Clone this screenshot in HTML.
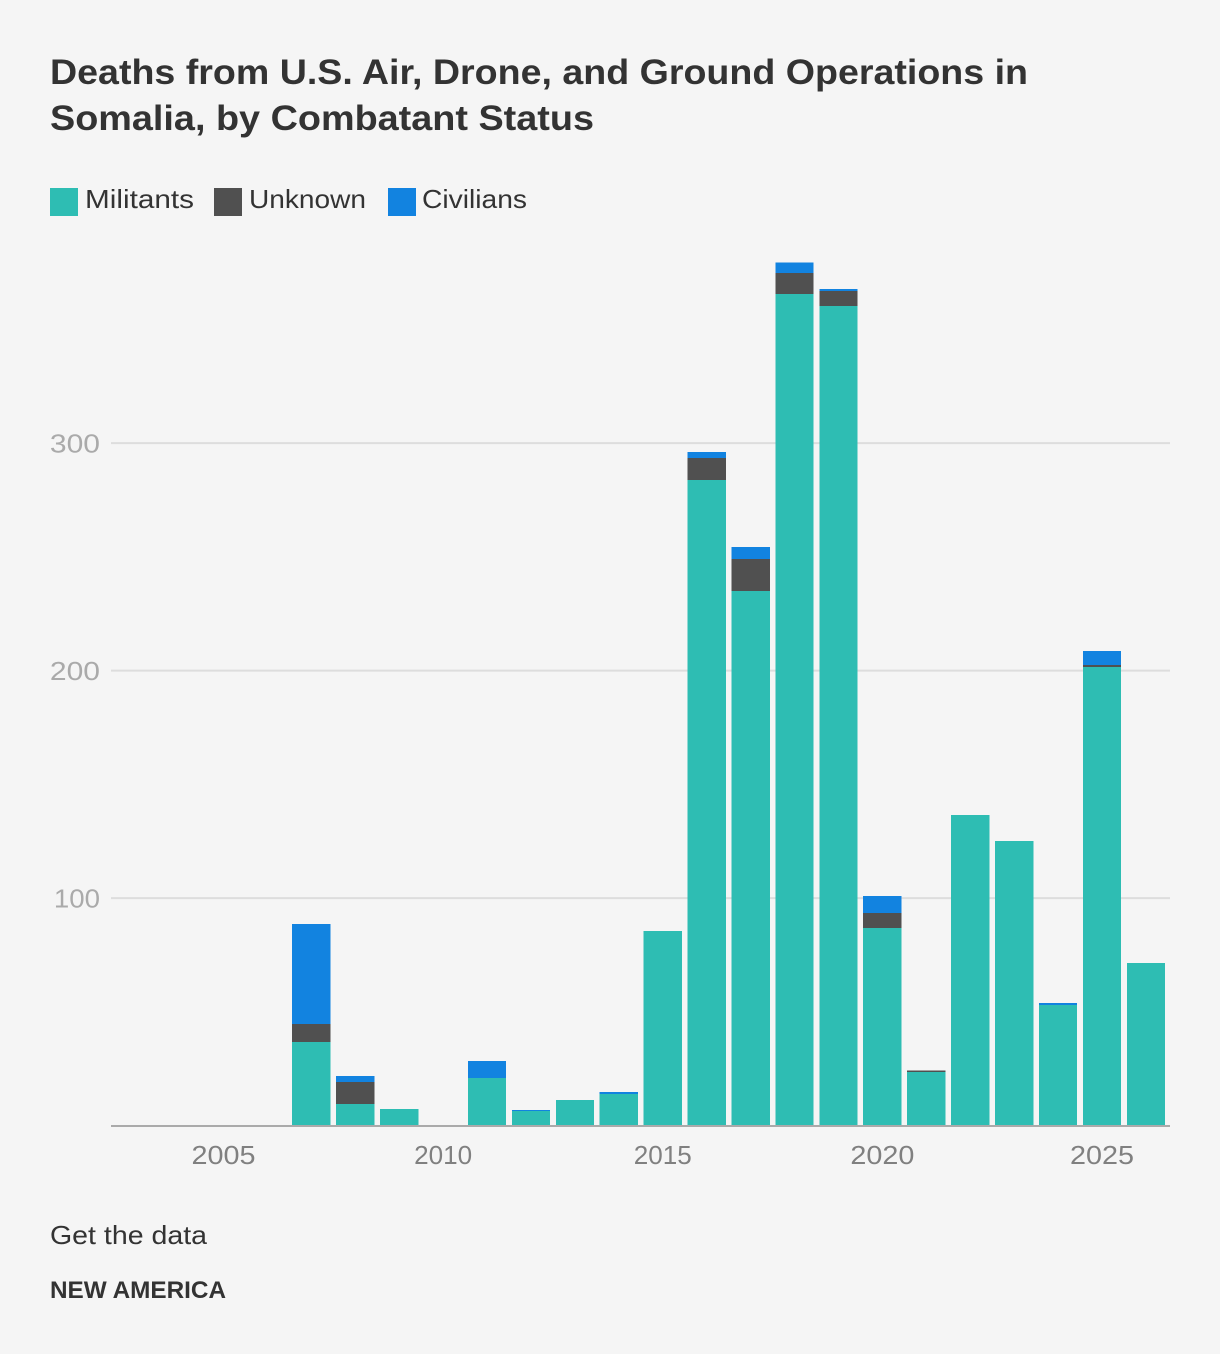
<!DOCTYPE html>
<html lang="en">
<head>
<meta charset="utf-8">
<title>Deaths from U.S. Air, Drone, and Ground Operations in Somalia, by Combatant Status</title>
<style>
html,body{margin:0;padding:0;background:#f5f5f5;}
svg{display:block;font-family:"Liberation Sans",sans-serif;}
</style>
</head>
<body>
<svg id="chart" xmlns="http://www.w3.org/2000/svg" width="1220" height="1354" viewBox="0 0 1220 1354">
  <rect x="0" y="0" width="1220" height="1354" fill="#f5f5f5"/>
  <g fill="#333333" font-weight="700" font-size="35">
    <text x="50" y="84" textLength="978" lengthAdjust="spacingAndGlyphs">Deaths from U.S. Air, Drone, and Ground Operations in</text>
    <text x="50" y="130" textLength="544" lengthAdjust="spacingAndGlyphs">Somalia, by Combatant Status</text>
  </g>
  <g font-size="26" fill="#333333">
    <g>
      <rect x="50" y="188" width="28" height="28" fill="#2ebdb3"/>
      <text x="85" y="208" textLength="109" lengthAdjust="spacingAndGlyphs">Militants</text>
    </g>
    <g>
      <rect x="214" y="188" width="28" height="28" fill="#505050"/>
      <text x="249" y="208" textLength="117" lengthAdjust="spacingAndGlyphs">Unknown</text>
    </g>
    <g>
      <rect x="388" y="188" width="28" height="28" fill="#1283e0"/>
      <text x="422" y="208" textLength="105" lengthAdjust="spacingAndGlyphs">Civilians</text>
    </g>
  </g>
  <g id="grid"></g>
  <g id="bars" shape-rendering="crispEdges"></g>
  <rect x="111" y="1125" width="1059" height="2" fill="#aaaaaa"/>
  <g id="ylabels"></g>
  <g id="xlabels"></g>
  <text x="50" y="1244" font-size="26" fill="#333333" textLength="157" lengthAdjust="spacingAndGlyphs">Get the data</text>
  <text x="50" y="1298" font-size="24" font-weight="700" fill="#333333" textLength="176" lengthAdjust="spacingAndGlyphs">NEW AMERICA</text>
</svg>
<script>
const categories = [2003,2004,2005,2006,2007,2008,2009,2010,2011,2012,2013,2014,2015,2016,2017,2018,2019,2020,2021,2022,2023,2024,2025,2026];
const militants  = [0,0,0,0,36.7,9.5,7.3,0,20.9,6.4,11.3,13.9,85.5,283.8,235,365.5,360.2,86.9,23.6,136.5,125.1,53,201.6,71.5];
const unknown    = [0,0,0,0,8,9.7,0,0,0,0,0,0,0,9.6,14,9.3,6.7,6.6,0.7,0,0,0,0.9,0];
const civilians  = [0,0,0,0,44,2.6,0,0,7.5,0.5,0,0.9,0,2.6,5.3,4.6,0.9,7.5,0,0,0,0.9,6.1,0];
const yTicks = [100,200,300];
const xTicks = [2005,2010,2015,2020,2025];

const NS = 'http://www.w3.org/2000/svg';
const plotLeft = 113.7, plotRight = 1167.9, zeroY = 1125.6, pxPerUnit = 2.275;
const step = (plotRight - plotLeft) / categories.length;
const barWidth = step * 0.872;
function xCenter(year){ return plotLeft + (categories.indexOf(year) + 0.5) * step; }
function yPos(v){ return zeroY - v * pxPerUnit; }
function labelWidth(text, digitWidth, narrowBy){
  const ones = text.split('1').length - 1;
  return text.length * digitWidth - ones * narrowBy;
}

const gridG = document.getElementById('grid');
const yLabelG = document.getElementById('ylabels');
yTicks.forEach(function(t){
  const line = document.createElementNS(NS,'line');
  
  
  line.setAttribute('x1', 111);
  line.setAttribute('x2', 1170);
  line.setAttribute('y1', yPos(t));
  line.setAttribute('y2', yPos(t));
  line.setAttribute('stroke', '#dddddd');
  line.setAttribute('stroke-width', 2);
  gridG.appendChild(line);
  const label = document.createElementNS(NS,'text');
  
  
  label.setAttribute('x', 100);
  label.setAttribute('y', yPos(t) + 9.5);
  label.setAttribute('text-anchor', 'end');
  label.setAttribute('font-size', 26);
  label.setAttribute('fill', '#aaaaaa');
  label.setAttribute('textLength', labelWidth(String(t), 16.7, 4));
  label.setAttribute('lengthAdjust', 'spacingAndGlyphs');
  label.textContent = String(t);
  yLabelG.appendChild(label);
});

const xLabelG = document.getElementById('xlabels');
xTicks.forEach(function(t){
  const label = document.createElementNS(NS,'text');
  
  
  label.setAttribute('x', xCenter(t));
  label.setAttribute('y', 1164);
  label.setAttribute('text-anchor', 'middle');
  label.setAttribute('font-size', 26);
  label.setAttribute('fill', '#808080');
  label.setAttribute('textLength', labelWidth(String(t), 16, 6));
  label.setAttribute('lengthAdjust', 'spacingAndGlyphs');
  label.textContent = String(t);
  xLabelG.appendChild(label);
});

const barsG = document.getElementById('bars');
function addSegment(year, base, value, color, name){
  if (!value) return;
  const rect = document.createElementNS(NS,'rect');
  
  
  rect.setAttribute('x', xCenter(year) - barWidth / 2);
  rect.setAttribute('width', barWidth);
  rect.setAttribute('y', yPos(base + value));
  rect.setAttribute('height', value * pxPerUnit);
  rect.setAttribute('fill', color);
  barsG.appendChild(rect);
}
categories.forEach(function(year, i){
  addSegment(year, 0, militants[i], '#2ebdb3', 'bar-militants');
  addSegment(year, militants[i], unknown[i], '#505050', 'bar-unknown');
  addSegment(year, militants[i] + unknown[i], civilians[i], '#1283e0', 'bar-civilians');
});
</script>
</body>
</html>
